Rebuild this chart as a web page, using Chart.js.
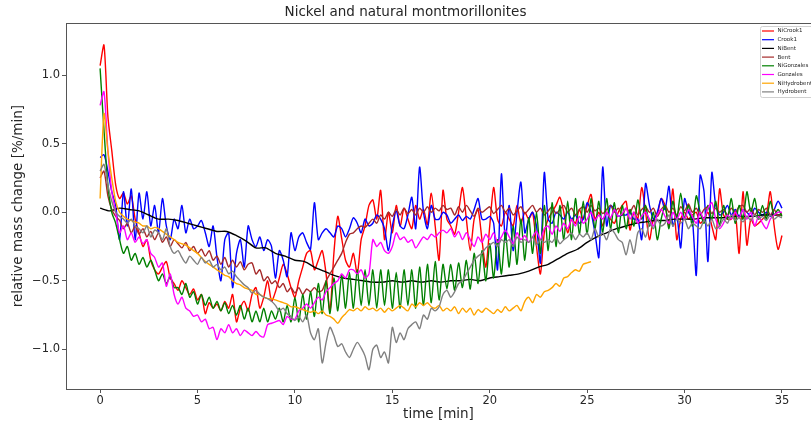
<!DOCTYPE html>
<html>
<head>
<meta charset="utf-8">
<script src="https://cdn.jsdelivr.net/npm/chart.js@4/dist/chart.umd.min.js"></script>
<style>
html,body{margin:0;padding:0;background:#fff;overflow:hidden;}
#wrap{position:relative;width:811px;height:425px;}
</style>
</head>
<body>
<div id="wrap"><canvas id="c" width="811" height="425"></canvas></div>
<script>
// ---- data (t in minutes, y in %/min) ----
const seriesNames = ["NiCrook1","Crook1","NiBent","Bent","NiGonzales","Gonzales","NiHydrobent","Hydrobent"];
const xTicks = [0,5,10,15,20,25,30,35];
const yTicks = [-1.0,-0.5,0.0,0.5,1.0];

const stepFine = 0.2;   // sampling step of the noisy series
const stepBent = 0.5;   // sampling step of NiBent

const niCrook1 = [
 1.07,1.22,0.7,0.45,0.2, 0.1,0.14,0.06,0.12,-0.05, -0.15,-0.25,-0.2,-0.35,-0.42, -0.45,-0.4,-0.36,-0.48,-0.52,
 -0.57,-0.5,-0.55,-0.6,-0.56, -0.64,-0.6,-0.74,-0.66,-0.7, -0.67,-0.72,-0.65,-0.7,-0.6, -0.8,-0.7,-0.65,-0.72,-0.6,
 -0.55,-0.7,-0.62,-0.5,-0.65, -0.58,-0.48,-0.38,-0.45,-0.55, -0.62,-0.5,-0.4,-0.3,-0.28, -0.42,-0.35,-0.28,-0.45,-0.72,
 -0.3,-0.03,-0.19,-0.35,-0.4, -0.3,-0.45,-0.2,-0.1,0.05, 0.09,-0.05,0.16,-0.2,0.0, -0.15,0.05,-0.1,0.03,-0.05,
 -0.12,0.05,-0.05,0.02,-0.09, 0.14,-0.1,-0.35,0.16,-0.05, -0.1,-0.16,0.0,0.18,-0.05, -0.28,-0.05,0.02,-0.2,-0.4,
 -0.1,0.18,-0.05,-0.1,0.0, -0.05,-0.1,0.05,-0.08,0.0, -0.05,0.0,-0.25,-0.45,-0.15, -0.05,0.0,0.05,0.11,0.0,
 -0.15,-0.05,-0.08,0.02,-0.05, 0.05,0.13,-0.05,0.0,-0.1, 0.0,-0.05,-0.08,0.0,0.05, 0.08,-0.13,0.0,-0.05,0.18,
 0.0,-0.2,-0.05,-0.02,0.1, 0.05,-0.1,0.17,-0.2,-0.05, 0.0,-0.05,-0.02,0.0,-0.08, -0.05,0.0,-0.1,-0.2,0.17,
 -0.02,-0.05,-0.05,0.0,-0.3, 0.15,-0.24,-0.05,-0.1,-0.08, -0.05,-0.02,0.15,-0.1,-0.27, -0.17
];
const crook1 = [
 0.4,0.42,0.3,0.15,0.05, -0.2,0.15,-0.1,0.17,-0.2, 0.14,-0.05,0.15,-0.1,0.05, -0.15,0.1,-0.1,-0.2,-0.05,
 -0.12,0.05,-0.15,-0.05,-0.12, -0.1,-0.06,-0.15,-0.25,-0.1, -0.33,-0.5,-0.2,-0.15,-0.55, -0.3,-0.2,-0.4,-0.1,-0.2,
 -0.25,-0.18,-0.28,-0.2,-0.25, -0.48,-0.28,-0.35,-0.47,-0.15, -0.28,-0.18,-0.15,-0.22,-0.27, 0.07,-0.2,-0.15,-0.12,-0.15,
 -0.18,-0.1,-0.12,-0.18,-0.12, -0.04,-0.08,-0.15,-0.05,-0.1, -0.08,-0.02,-0.05,-0.12,-0.28, -0.1,0.01,-0.1,-0.12,-0.02,
 0.11,-0.12,0.33,0.0,-0.12, 0.05,-0.05,-0.05,0.0,-0.02, -0.08,-0.05,-0.02,-0.06,-0.03, -0.05,0.02,0.1,-0.05,-0.05,
 -0.03,-0.08,-0.42,0.28,-0.2, 0.05,-0.28,0.0,0.22,-0.15, -0.05,0.0,-0.1,-0.37,0.29, -0.05,-0.08,0.0,-0.02,-0.05,
 0.0,-0.05,-0.02,-0.08,-0.05, 0.07,0.0,-0.15,-0.33,0.33, -0.1,0.05,0.02,-0.03,-0.02, -0.02,0.0,-0.05,-0.05,-0.2,
 0.21,0.05,-0.05,0.0,0.1, 0.02,0.19,-0.1,-0.02,-0.26, 0.1,0.0,-0.05,-0.46,0.27, 0.15,-0.36,0.29,0.05,-0.02,
 0.0,0.05,-0.02,0.02,-0.03, 0.02,0.0,-0.03,0.03,0.0, -0.02,0.0,-0.03,0.02,0.08, 0.03
];
const niBent = [
 0.03,0.01,0.03,0.02,0.01,-0.02,-0.05,-0.05,-0.06,-0.08,
 -0.1,-0.12,-0.14,-0.14,-0.17,-0.21,-0.26,-0.26,-0.3,-0.32,
 -0.35,-0.36,-0.4,-0.43,-0.46,-0.48,-0.49,-0.5,-0.51,-0.51,
 -0.5,-0.51,-0.5,-0.51,-0.5,-0.51,-0.5,-0.5,-0.49,-0.5,
 -0.48,-0.47,-0.46,-0.45,-0.43,-0.4,-0.38,-0.34,-0.3,-0.27,
 -0.22,-0.18,-0.15,-0.12,-0.1,-0.08,-0.07,-0.06,-0.06,-0.05,
 -0.05,-0.05,-0.04,-0.04,-0.04,-0.03,-0.03,-0.03,-0.02,-0.02,-0.02
];
const bent = [
 0.25,0.3,0.12,0.02,-0.03, -0.06,-0.12,-0.08,-0.15,-0.1, -0.16,-0.12,-0.18,-0.14,-0.2, -0.15,-0.22,-0.18,-0.25,-0.2,
 -0.23,-0.26,-0.22,-0.28,-0.25, -0.3,-0.27,-0.32,-0.28,-0.35, -0.32,-0.38,-0.33,-0.4,-0.35, -0.4,-0.36,-0.42,-0.38,-0.37,
 -0.45,-0.42,-0.5,-0.47,-0.52, -0.5,-0.55,-0.52,-0.58,-0.55, -0.59,-0.55,-0.6,-0.56,-0.58, -0.55,-0.58,-0.57,-0.5,-0.45,
 -0.4,-0.35,-0.3,-0.22,-0.16, -0.15,-0.12,-0.1,-0.11,-0.08, -0.05,-0.08,-0.02,-0.05,0.0, -0.03,0.02,-0.02,0.03,-0.01,
 0.02,-0.02,0.03,0.0,0.04, 0.0,0.03,0.01,0.05,0.02, 0.03,-0.02,0.04,0.0,0.05, 0.01,-0.03,0.03,0.0,0.02,
 0.04,-0.01,0.02,0.05,0.0, 0.03,-0.02,0.01,0.04,-0.01, 0.02,0.05,0.0,0.03,-0.02, 0.01,0.04,-0.01,0.02,0.05,
 0.0,0.03,-0.02,0.02,0.04, 0.0,0.05,0.01,0.03,-0.01, 0.02,0.05,0.0,0.03,-0.02, 0.03,0.0,0.05,-0.02,0.02,
 0.04,0.0,0.03,-0.03,0.02, 0.05,0.0,0.03,-0.02,0.04, 0.01,0.06,0.0,0.03,-0.02, 0.02,0.04,-0.01,0.03,0.0,
 0.02,-0.02,0.03,0.0,0.04, 0.05,0.0,0.03,-0.02,0.02, 0.0,0.03,-0.02,0.02,-0.03, -0.01
];
const niGonzales = [
 1.05,0.6,0.2,0.0,-0.08, -0.2,-0.3,-0.25,-0.35,-0.3, -0.38,-0.33,-0.4,-0.35,-0.42, -0.5,-0.45,-0.52,-0.47,-0.55,
 -0.55,-0.6,-0.52,-0.62,-0.58, -0.67,-0.6,-0.68,-0.62,-0.7, -0.65,-0.72,-0.66,-0.74,-0.68, -0.75,-0.68,-0.78,-0.7,-0.8,
 -0.72,-0.8,-0.7,-0.8,-0.72, -0.78,-0.7,-0.8,-0.68,-0.8, -0.62,-0.8,-0.6,-0.78,-0.58, -0.76,-0.52,-0.74,-0.5,-0.74,
 -0.48,-0.72,-0.46,-0.7,-0.44, -0.7,-0.42,-0.68,-0.42,-0.68, -0.42,-0.7,-0.42,-0.68,-0.42, -0.7,-0.44,-0.7,-0.42,-0.68,
 -0.42,-0.7,-0.4,-0.68,-0.38, -0.66,-0.36,-0.64,-0.38,-0.56, -0.38,-0.57,-0.37,-0.55,-0.35, -0.56,-0.3,-0.52,-0.28,-0.5,
 -0.23,-0.48,-0.2,-0.45,-0.15, -0.4,-0.1,-0.38,-0.05,-0.35, -0.04,-0.3,0.0,-0.3,0.05, -0.28,0.07,-0.25,0.05,-0.2,
 0.08,-0.2,0.1,-0.16,0.08, -0.16,0.1,-0.12,0.08,-0.15, 0.1,-0.12,0.07,-0.15,0.05, -0.12,0.02,-0.1,0.09,-0.05,
 0.05,-0.1,0.0,-0.2,-0.05, 0.05,-0.12,0.08,-0.05,0.14, -0.05,0.05,-0.1,0.12,0.0, -0.08,0.05,-0.05,0.08,-0.1,
 0.05,-0.05,0.1,-0.08,0.05, -0.05,0.15,0.0,0.1,-0.05, 0.05,-0.05,0.08,-0.02,0.02, -0.03
];
const gonzales = [
 0.78,0.88,0.45,0.15,0.0, -0.15,-0.1,-0.2,-0.15,-0.22, -0.18,-0.23,-0.2,-0.3,-0.33, -0.4,-0.37,-0.54,-0.45,-0.6,
 -0.67,-0.62,-0.7,-0.72,-0.76, -0.75,-0.8,-0.78,-0.85,-0.84, -0.93,-0.85,-0.88,-0.82,-0.88, -0.85,-0.9,-0.86,-0.88,-0.9,
 -0.87,-0.9,-0.91,-0.82,-0.81, -0.8,-0.79,-0.82,-0.76,-0.78, -0.78,-0.72,-0.7,-0.67,-0.7, -0.66,-0.62,-0.64,-0.58,-0.55,
 -0.52,-0.5,-0.45,-0.48,-0.42, -0.42,-0.45,-0.42,-0.48,-0.45, -0.2,-0.25,-0.22,-0.28,-0.3, -0.25,-0.15,-0.2,-0.18,-0.22,
 -0.2,-0.26,-0.22,-0.18,-0.2, -0.16,-0.18,-0.15,-0.13,-0.15, -0.12,-0.18,-0.14,-0.2,-0.15, -0.2,-0.25,-0.18,-0.22,-0.16,
 -0.2,-0.15,-0.22,-0.18,-0.13, -0.18,-0.23,-0.15,-0.2,-0.17, -0.22,-0.18,-0.14,-0.2,-0.12, -0.1,-0.16,-0.1,-0.14,-0.08,
 -0.12,-0.05,-0.1,-0.03,-0.08, -0.05,0.0,-0.06,-0.02,-0.05, 0.0,-0.04,0.02,-0.03,-0.01, 0.03,-0.05,0.0,-0.08,-0.03,
 0.0,-0.05,-0.1,-0.02,0.02, -0.03,-0.08,0.0,-0.05,0.0, -0.05,0.02,-0.03,-0.08,0.0, -0.05,0.03,0.07,-0.05,-0.12,
 -0.08,-0.02,-0.05,0.0,-0.04, 0.02,-0.05,0.0,-0.1,-0.03, -0.08,-0.12,-0.05,-0.02,0.0, 0.0
];
const niHydrobent = [
 0.1,0.72,0.45,0.25,0.08, 0.0,-0.03,-0.05,-0.06,-0.07, -0.08,-0.1,-0.1,-0.12,-0.11, -0.12,-0.14,-0.16,-0.18,-0.2,
 -0.22,-0.23,-0.24,-0.26,-0.28, -0.3,-0.33,-0.36,-0.38,-0.4, -0.42,-0.44,-0.46,-0.47,-0.5, -0.52,-0.53,-0.55,-0.56,-0.57,
 -0.6,-0.6,-0.62,-0.63,-0.63, -0.64,-0.65,-0.66,-0.67,-0.69, -0.69,-0.7,-0.71,-0.72,-0.73, -0.72,-0.74,-0.72,-0.75,-0.76,
 -0.78,-0.81,-0.77,-0.74,-0.71, -0.72,-0.7,-0.72,-0.69,-0.71, -0.7,-0.72,-0.7,-0.73,-0.7, -0.72,-0.7,-0.68,-0.7,-0.72,
 -0.67,-0.69,-0.66,-0.68,-0.66, -0.69,-0.7,-0.68,-0.72,-0.7, -0.72,-0.69,-0.74,-0.7,-0.73, -0.7,-0.75,-0.71,-0.73,-0.7,
 -0.72,-0.74,-0.71,-0.73,-0.69, -0.72,-0.7,-0.68,-0.72,-0.65, -0.62,-0.66,-0.6,-0.62,-0.58, -0.57,-0.55,-0.52,-0.54,-0.48,
 -0.47,-0.44,-0.42,-0.43,-0.38, -0.37,-0.36
];
const hydrobent = [
 0.3,0.35,0.2,0.08,0.0, -0.03,-0.05,-0.08,-0.05,-0.1, -0.12,-0.15,-0.1,-0.18,-0.13, -0.15,-0.2,-0.12,-0.25,-0.3,
 -0.28,-0.33,-0.37,-0.32,-0.35, -0.38,-0.33,-0.37,-0.35,-0.4, -0.38,-0.42,-0.4,-0.45,-0.43, -0.47,-0.5,-0.53,-0.55,-0.59,
 -0.57,-0.6,-0.62,-0.63,-0.65, -0.68,-0.72,-0.7,-0.74,-0.76, -0.79,-0.76,-0.8,-0.75,-0.88, -0.93,-0.85,-1.1,-0.95,-0.84,
 -0.9,-0.98,-0.96,-1.02,-1.06, -1.0,-0.95,-0.99,-1.05,-1.15, -1.0,-0.97,-1.06,-1.02,-1.1, -0.84,-0.95,-0.88,-0.93,-0.85,
 -0.82,-0.8,-0.85,-0.75,-0.78, -0.7,-0.72,-0.69,-0.6,-0.57, -0.62,-0.58,-0.52,-0.5,-0.45, -0.4,-0.35,-0.32,-0.3,-0.26,
 -0.24,-0.22,-0.25,-0.2,-0.22, -0.2,-0.25,-0.18,-0.22,-0.2, -0.22,-0.18,-0.24,-0.2,-0.22, -0.2,-0.22,-0.18,-0.23,-0.2,
 -0.18,-0.15,-0.2,-0.16,-0.18, -0.15,-0.2,-0.12,-0.18,-0.15, -0.2,-0.12,-0.15,-0.2,-0.22, -0.31,-0.2,-0.3,-0.15,-0.12,
 -0.18,-0.08,-0.12,-0.05,-0.1, -0.08,-0.02,-0.1,-0.05,-0.08, -0.05,-0.12,-0.08,-0.1,-0.12, -0.06,-0.1,-0.05,-0.12,-0.1,
 -0.05,-0.08,-0.02,-0.06,-0.04, -0.07,-0.03,-0.06,-0.02,-0.05, -0.03,-0.06,-0.02,-0.05,-0.03, -0.04
];

// ---- build ----
const seriesValues = [niCrook1, crook1, niBent, bent, niGonzales, gonzales, niHydrobent, hydrobent];
const seriesSteps  = [stepFine, stepFine, stepBent, stepFine, stepFine, stepFine, stepFine, stepFine];
const seriesColors = ["#ff0000","#0000ff","#000000","#a52a2a","#008000","#ff00ff","#ffa500","#808080"];

const toPoints = (vals, step) => vals.map((y, i) => ({x: Math.round(i * step * 100) / 100, y}));

const datasets = seriesNames.map((name, i) => ({
  label: name,
  data: toPoints(seriesValues[i], seriesSteps[i]),
  borderColor: seriesColors[i],
  backgroundColor: seriesColors[i],
  borderWidth: 1.4,
  pointRadius: 0,
  tension: 0.25,
  fill: false,
  order: seriesNames.length - i
}));

const AXIS = "#555555";
const TXT = "#262626";
const FONT = "'DejaVu Sans', sans-serif";

const frame = {
  id: 'frame',
  afterDatasetsDraw(chart) {
    const {ctx, chartArea: a} = chart;
    ctx.save();
    ctx.strokeStyle = AXIS; ctx.lineWidth = 1;
    ctx.beginPath();
    ctx.moveTo(a.left, Math.round(a.top) + 0.5);
    ctx.lineTo(a.right + 10, Math.round(a.top) + 0.5);
    ctx.stroke();
    // legend box
    const bx = 760.5, by = 26.5, bw = 60, bh = 71, r = 2;
    ctx.fillStyle = "rgba(255,255,255,0.85)";
    ctx.strokeStyle = "#d0d0d0";
    ctx.beginPath();
    ctx.moveTo(bx + r, by); ctx.lineTo(bx + bw, by); ctx.lineTo(bx + bw, by + bh);
    ctx.lineTo(bx + r, by + bh); ctx.arcTo(bx, by + bh, bx, by + bh - r, r);
    ctx.lineTo(bx, by + r); ctx.arcTo(bx, by, bx + r, by, r);
    ctx.closePath(); ctx.fill(); ctx.stroke();
    ctx.font = "5.5px " + FONT;
    ctx.textBaseline = "middle";
    ctx.textAlign = "left";
    chart.data.datasets.forEach((ds, i) => {
      const y = 31 + i * 8.7;
      ctx.strokeStyle = ds.borderColor; ctx.lineWidth = 1.2;
      ctx.beginPath(); ctx.moveTo(762, y); ctx.lineTo(774, y); ctx.stroke();
      ctx.fillStyle = TXT;
      ctx.fillText(ds.label, 777.5, y);
    });
    ctx.restore();
  }
};

new Chart(document.getElementById('c'), {
  type: 'line',
  data: {datasets},
  plugins: [frame],
  options: {
    responsive: false,
    animation: false,
    events: [],
    layout: {padding: {left: 0, right: 0, top: 0, bottom: 0}},
    plugins: {
      legend: {display: false},
      tooltip: {enabled: false},
      title: {
        display: true,
        text: 'Nickel and natural montmorillonites',
        color: TXT,
        font: {family: FONT, size: 13.5, weight: 'normal', lineHeight: 1.2},
        padding: {top: 4, bottom: 3}
      }
    },
    scales: {
      x: {
        type: 'linear',
        min: -1.75,
        max: 36.49,
        afterBuildTicks: s => { s.ticks = xTicks.map(v => ({value: v})); },
        afterFit: s => { s.height = 36; },
        ticks: {color: TXT, font: {family: FONT, size: 11.5}, padding: 1, maxRotation: 0,
                callback: v => String(v)},
        grid: {display: true, drawOnChartArea: false, drawTicks: true, tickLength: 4, color: AXIS},
        border: {display: true, color: AXIS, width: 1},
        title: {display: true, text: 'time [min]', color: TXT,
                font: {family: FONT, size: 13.5, lineHeight: 1.2}, padding: {top: 0, bottom: 2}}
      },
      y: {
        type: 'linear',
        min: -1.29,
        max: 1.38,
        afterBuildTicks: s => { s.ticks = yTicks.map(v => ({value: v})); },
        afterFit: s => { s.width = 66; },
        ticks: {color: TXT, font: {family: FONT, size: 11.5}, padding: 2,
                callback: v => (v < 0 ? '\u2212' : '') + Math.abs(v).toFixed(1)},
        grid: {display: true, drawOnChartArea: false, drawTicks: true, tickLength: 4, color: AXIS},
        border: {display: true, color: AXIS, width: 1},
        title: {display: true, text: 'relative mass change [%/min]', color: TXT,
                font: {family: FONT, size: 13.5, lineHeight: 1.2}, padding: {top: 10, bottom: 0}}
      }
    }
  }
});
</script>
</body>
</html>
